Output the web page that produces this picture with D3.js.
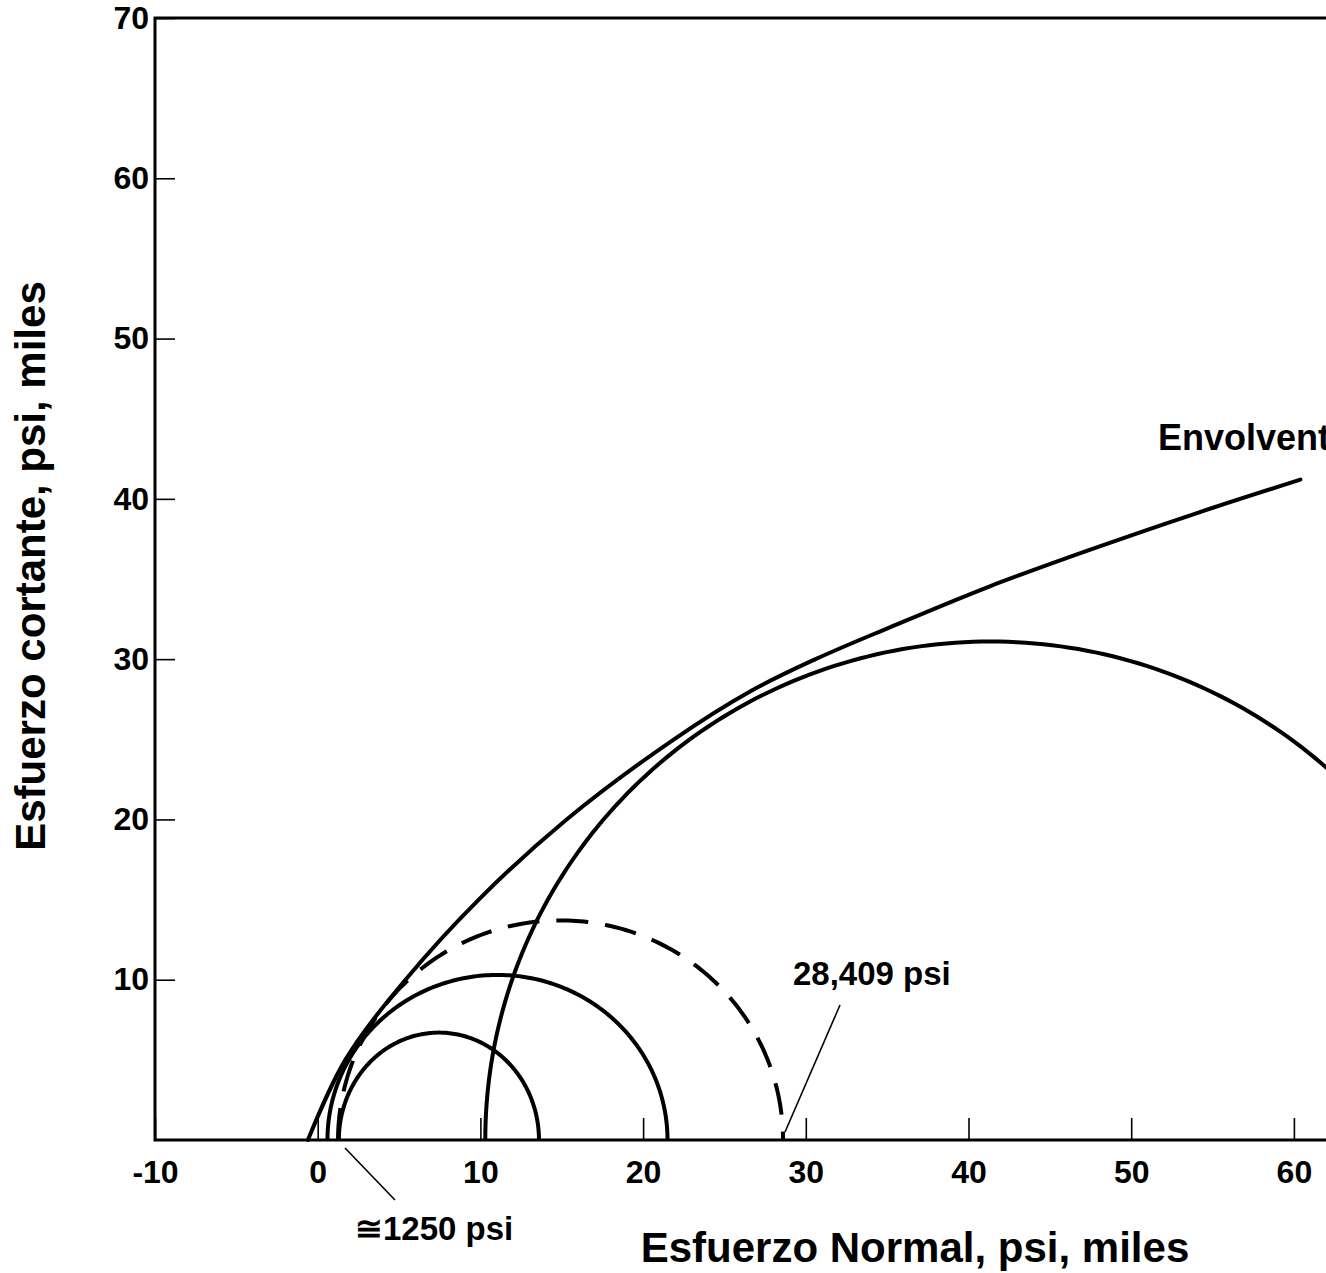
<!DOCTYPE html>
<html>
<head>
<meta charset="utf-8">
<script src="https://cdn.jsdelivr.net/npm/d3@7"></script>
<style>
  body { margin: 0; background: #fff; }
  svg { display: block; }
  text { font-family: "Liberation Sans", Arial, Helvetica, sans-serif; font-weight: bold; fill: #000; }
</style>
</head>
<body>
<div id="chart"></div>
<script>
// Mohr circles (thousands of psi): minor stress, major stress, peak shear
const circleNames = ["small", "medium", "predicted", "large"];
const sigma3 = [1.3, 0.6, 1.25, 10.3];
const sigma1 = [13.6, 21.5, 28.6, 72.4];
const tauMax = [6.7, 10.3, 13.7, 31.1];
const dashed = [false, false, true, false];

// failure envelope
const envSigma = [-0.6, 1.7, 5.4, 9.9, 15.3, 21.9, 26.6, 30.6, 35.2, 41.2, 47.4, 54.0, 60.4];
const envTau   = [0, 5, 10, 15, 20, 25, 28, 30, 32, 34.5, 36.8, 39.1, 41.2];

const xTicks = [-10, 0, 10, 20, 30, 40, 50, 60];
const yTicks = [10, 20, 30, 40, 50, 60, 70];

const width = 1326, height = 1273;

const svg = d3.select("#chart")
    .append("svg")
    .attr("width", width)
    .attr("height", height);

// scales
const x = d3.scaleLinear().domain([-10, 70]).range([155, 1456.6]);
const y = d3.scaleLinear().domain([0, 70]).range([1140, 18]);

// ticks (pointing inward) and labels
svg.append("g")
    .attr("transform", `translate(0,${y(0)})`)
    .call(d3.axisBottom(x).tickValues(xTicks).tickFormat(d => String(d))
        .tickSizeInner(-22).tickSizeOuter(0).tickPadding(20))
    .call(g => g.select(".domain").remove())
    .call(g => g.selectAll("line").attr("stroke", "#000").attr("stroke-width", 1.6))
    .call(g => g.selectAll("text").style("font-size", "32px").attr("fill", "#000"));

svg.append("g")
    .attr("transform", `translate(${x(-10)},0)`)
    .call(d3.axisLeft(y).tickValues(yTicks).tickSizeInner(-20).tickSizeOuter(0).tickPadding(6))
    .call(g => g.select(".domain").remove())
    .call(g => g.selectAll("line").attr("stroke", "#000").attr("stroke-width", 1.6))
    .call(g => g.selectAll("text").style("font-size", "32px").attr("fill", "#000"));

// frame: left, top, bottom
svg.append("path")
    .attr("d", `M${x(70)},${y(70)} H${x(-10)} V${y(0)} H${x(70)}`)
    .attr("fill", "none")
    .attr("stroke", "#000")
    .attr("stroke-width", 3);

// semicircles
const arcLine = d3.line().x(d => x(d[0])).y(d => y(d[1]));
circleNames.forEach((name, i) => {
    const c = (sigma1[i] + sigma3[i]) / 2, r = (sigma1[i] - sigma3[i]) / 2;
    const pts = d3.range(0, 181, 1).map(a => {
        const t = a * Math.PI / 180;
        return [c - r * Math.cos(t), tauMax[i] * Math.sin(t)];
    });
    svg.append("path")
        .datum(pts)
        .attr("class", "mohr " + name)
        .attr("d", arcLine)
        .attr("fill", "none")
        .attr("stroke", "#000")
        .attr("stroke-width", 4)
        .attr("stroke-dasharray", dashed[i] ? "32,17" : null);
});

// envelope
const envLine = d3.line().curve(d3.curveCatmullRom.alpha(0.5)).x(d => x(d[0])).y(d => y(d[1]));
svg.append("path")
    .datum(envSigma.map((s, i) => [s, envTau[i]]))
    .attr("d", envLine)
    .attr("fill", "none")
    .attr("stroke", "#000")
    .attr("stroke-width", 4)
    .attr("stroke-linecap", "round");

svg.append("text").attr("x", 1158).attr("y", 450).style("font-size", "36px").text("Envolvente");

// annotations
svg.append("text").attr("x", 793).attr("y", 985).style("font-size", "33px").text("28,409 psi");
svg.append("line")
    .attr("x1", 840).attr("y1", 1005)
    .attr("x2", x(sigma1[2]) + 2).attr("y2", y(0) - 8)
    .attr("stroke", "#000").attr("stroke-width", 1.6);

svg.append("text").attr("x", 355).attr("y", 1240).style("font-size", "33px").text("≅1250 psi");
svg.append("line")
    .attr("x1", 395).attr("y1", 1200)
    .attr("x2", x(sigma3[2]) + 7).attr("y2", y(0) + 8)
    .attr("stroke", "#000").attr("stroke-width", 1.6);

// axis titles
svg.append("text")
    .attr("x", 915).attr("y", 1262)
    .attr("text-anchor", "middle")
    .style("font-size", "42px")
    .text("Esfuerzo Normal, psi, miles");

svg.append("text")
    .attr("transform", "translate(45,566) rotate(-90)")
    .attr("text-anchor", "middle")
    .style("font-size", "42px")
    .text("Esfuerzo cortante, psi, miles");
</script>
</body>
</html>
